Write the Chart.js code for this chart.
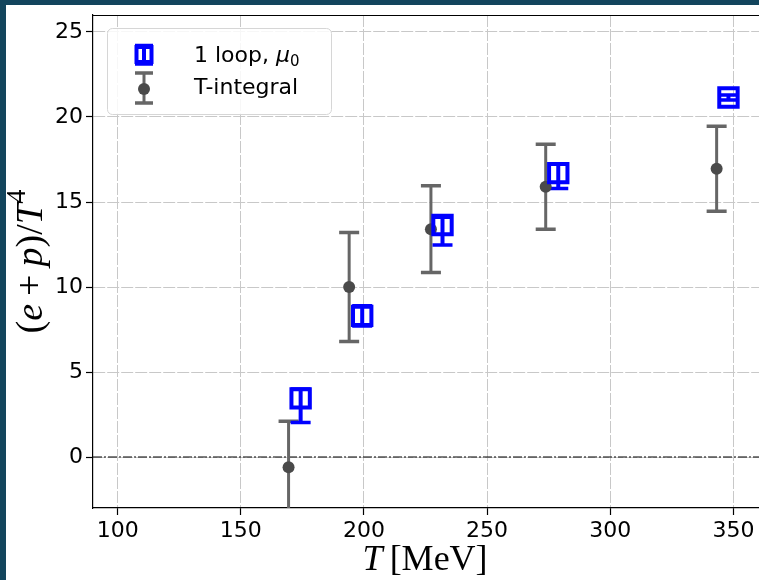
<!DOCTYPE html>
<html><head><meta charset="utf-8">
<script src="https://cdn.jsdelivr.net/npm/chart.js@4"></script>
<style>html,body{margin:0;padding:0;background:#13455d;overflow:hidden}
#wrap{position:absolute;left:0;top:0;width:759px;height:580px}</style>
</head><body><div id="wrap"><canvas id="c" width="759" height="580"></canvas></div>
<script>
// ---- data ----
const loopT   = [174.3, 199.3, 231.9, 278.9, 348.0];
const loopVal = [3.45, 8.3, 13.65, 16.7, 21.15];
const loopLo  = [2.03, 7.7, 12.47, 15.8, 21.0];
const loopHi  = [4.0, 8.9, 14.1, 17.25, 21.3];
const tintT   = [169.4, 194.0, 227.2, 273.8, 343.2];
const tintVal = [-0.6, 10.0, 13.4, 15.9, 16.95];
const tintErr = [2.7, 3.2, 2.55, 2.5, 2.5];
const xTicks  = [100, 150, 200, 250, 300, 350];
const yTicks  = [0, 5, 10, 15, 20, 25];
const legendNames = ['1 loop, ', 'T-integral'];
const xTitle = [['T','i'],['\u2009[MeV]','n']];
const yTitle = [['(','n'],['e','i'],['+','n',8,8],['p','i'],[')','n'],['/','n'],['T','i'],['4','s']];

const BLUE = '#0000ff', GRAYBAR = '#666666', GRAYPT = '#4a4a4a';
const SERIF = 'Liberation Serif';

function drawSegs(ctx, segs, size, cx, cy){
  const fontOf = s => s[1]==='i' ? `italic ${size}px "${SERIF}"` : s[1]==='s' ? `${Math.round(size*0.7)}px "${SERIF}"` : `${size}px "${SERIF}"`;
  let total = 0;
  const ws = segs.map(s => { ctx.font = fontOf(s); const w = ctx.measureText(s[0]).width + (s[2]||0) + (s[3]||0); total += w; return w; });
  let x = cx - total/2;
  segs.forEach((s,i) => {
    ctx.font = fontOf(s);
    const dy = s[1]==='s' ? -size*0.45 : 0;
    ctx.fillText(s[0], x + (s[2]||0), cy + dy);
    x += ws[i];
  });
}

const deco = {
  id: 'deco',
  beforeDraw(chart){
    const ctx = chart.ctx; ctx.save();
    ctx.fillStyle = '#13455d'; ctx.fillRect(0,0,759,580);
    ctx.fillStyle = '#ffffff'; ctx.fillRect(6,5,753,575);
    ctx.restore();
  },
  beforeDatasetsDraw(chart){
    const ctx = chart.ctx, xs = chart.scales.x, ys = chart.scales.y, a = chart.chartArea;
    ctx.save();
    ctx.beginPath(); ctx.rect(a.left, a.top, a.right-a.left, a.bottom-a.top); ctx.clip();
    // zero line
    const y0 = ys.getPixelForValue(0);
    ctx.strokeStyle = '#000'; ctx.lineWidth = 1.2; ctx.setLineDash([9,2,2,2]);
    ctx.beginPath(); ctx.moveTo(a.left, y0); ctx.lineTo(a.right, y0); ctx.stroke();
    ctx.setLineDash([]);
    // gray error bars
    ctx.strokeStyle = GRAYBAR;
    tintT.forEach((t,i) => {
      const px = xs.getPixelForValue(t);
      const pt = ys.getPixelForValue(tintVal[i]+tintErr[i]);
      const pb = ys.getPixelForValue(tintVal[i]-tintErr[i]);
      ctx.lineWidth = 3; ctx.beginPath(); ctx.moveTo(px,pt); ctx.lineTo(px,pb); ctx.stroke();
      ctx.lineWidth = 3.5; ctx.beginPath();
      ctx.moveTo(px-10,pt); ctx.lineTo(px+10,pt); ctx.moveTo(px-10,pb); ctx.lineTo(px+10,pb); ctx.stroke();
    });
    // blue error bars
    ctx.strokeStyle = BLUE;
    loopT.forEach((t,i) => {
      const px = xs.getPixelForValue(t);
      const pt = ys.getPixelForValue(loopHi[i]);
      const pb = ys.getPixelForValue(loopLo[i]);
      ctx.lineWidth = 4; ctx.beginPath(); ctx.moveTo(px,pt); ctx.lineTo(px,pb); ctx.stroke();
      ctx.lineWidth = 3.5; ctx.beginPath();
      ctx.moveTo(px-10,pt); ctx.lineTo(px+10,pt); ctx.moveTo(px-10,pb); ctx.lineTo(px+10,pb); ctx.stroke();
    });
    ctx.restore();
  },
  afterDraw(chart){
    const ctx = chart.ctx, a = chart.chartArea;
    ctx.save();
    // top spine
    ctx.strokeStyle = '#000'; ctx.lineWidth = 1.2;
    ctx.beginPath(); ctx.moveTo(a.left, a.top+0.5); ctx.lineTo(a.right, a.top+0.5); ctx.stroke();
    // legend box
    ctx.beginPath(); ctx.roundRect(107.5, 28.5, 224, 86, 5);
    ctx.fillStyle = 'rgba(255,255,255,0.85)'; ctx.fill();
    ctx.strokeStyle = '#d6d6d6'; ctx.lineWidth = 1; ctx.stroke();
    // legend marker 1
    const lx = 144;
    ctx.strokeStyle = BLUE; ctx.lineWidth = 4;
    ctx.beginPath(); ctx.moveTo(lx,45); ctx.lineTo(lx,65); ctx.stroke();
    ctx.lineWidth = 3.5; ctx.beginPath();
    ctx.moveTo(lx-9,45.5); ctx.lineTo(lx+9,45.5); ctx.moveTo(lx-9,64); ctx.lineTo(lx+9,64); ctx.stroke();
    ctx.lineWidth = 4; ctx.strokeRect(lx-7.5, 47, 15, 15);
    // legend marker 2
    ctx.strokeStyle = GRAYBAR; ctx.lineWidth = 3;
    ctx.beginPath(); ctx.moveTo(lx,73); ctx.lineTo(lx,103); ctx.stroke();
    ctx.lineWidth = 3.5; ctx.beginPath();
    ctx.moveTo(lx-9,73); ctx.lineTo(lx+9,73); ctx.moveTo(lx-9,103); ctx.lineTo(lx+9,103); ctx.stroke();
    ctx.fillStyle = GRAYPT; ctx.beginPath(); ctx.arc(lx,89,6,0,Math.PI*2); ctx.fill();
    // legend text
    ctx.fillStyle = '#000'; ctx.textBaseline = 'alphabetic'; ctx.textAlign = 'left';
    ctx.font = '22px "DejaVu Sans"';
    ctx.fillText(legendNames[0], 194, 62);
    let w = ctx.measureText(legendNames[0]).width;
    ctx.font = 'italic 22px "DejaVu Sans"';
    ctx.fillText('\u03bc', 194+w, 62);
    w += ctx.measureText('\u03bc').width;
    ctx.font = '15px "DejaVu Sans"';
    ctx.fillText('0', 194+w, 66);
    ctx.font = '22px "DejaVu Sans"';
    ctx.fillText(legendNames[1], 194, 94);
    // axis titles
    drawSegs(ctx, xTitle, 36, (a.left+a.right)/2 - 1, 570);
    ctx.translate(42, (a.top+a.bottom)/2);
    ctx.rotate(-Math.PI/2);
    drawSegs(ctx, yTitle, 38, 0, 0);
    ctx.restore();
  }
};

const tickFont = {family: 'DejaVu Sans', size: 22};
new Chart(document.getElementById('c'), {
  type: 'scatter',
  data: {
    datasets: [
      { label: '1 loop, \u03bc0', data: loopT.map((x,i)=>({x, y: loopVal[i]})),
        pointStyle: 'rect', pointRadius: 13, pointHoverRadius: 13, borderWidth: 4, pointBorderWidth: 4,
        borderColor: BLUE, backgroundColor: 'rgba(0,0,0,0)' },
      { label: 'T-integral', data: tintT.map((x,i)=>({x, y: tintVal[i]})),
        pointStyle: 'circle', pointRadius: 6, pointHoverRadius: 6, borderWidth: 0,
        borderColor: GRAYPT, backgroundColor: GRAYPT }
    ]
  },
  options: {
    responsive: false, animation: false, devicePixelRatio: 1,
    layout: {autoPadding: false, padding: {top: 15, right: 0, left: 0, bottom: 0}},
    plugins: {legend: {display: false}, tooltip: {enabled: false}},
    events: [],
    scales: {
      x: {
        type: 'linear', min: 90, max: 360.4,
        afterBuildTicks: s => { s.ticks = xTicks.map(v => ({value: v})); },
        afterFit: s => { s.height = 72; s.paddingLeft = 0; s.paddingRight = 0; },
        grid: {color: '#c8c8c8', lineWidth: 1, tickColor: '#000', tickLength: 7, tickWidth: 1.2},
        border: {display: true, color: '#000', width: 1.2, dash: [12, 2]},
        ticks: {font: tickFont, color: '#000', padding: 3, maxRotation: 0, autoSkip: false}
      },
      y: {
        type: 'linear', min: -3, max: 26,
        afterBuildTicks: s => { s.ticks = yTicks.map(v => ({value: v})); },
        afterFit: s => { s.width = 93; s.paddingTop = 0; s.paddingBottom = 0; },
        grid: {color: '#c8c8c8', lineWidth: 1, tickColor: '#000', tickLength: 7, tickWidth: 1.2},
        border: {display: true, color: '#000', width: 1.2, dash: [12, 2]},
        ticks: {font: tickFont, color: '#000', padding: 3, autoSkip: false}
      }
    }
  },
  plugins: [deco]
});
</script></body></html>
